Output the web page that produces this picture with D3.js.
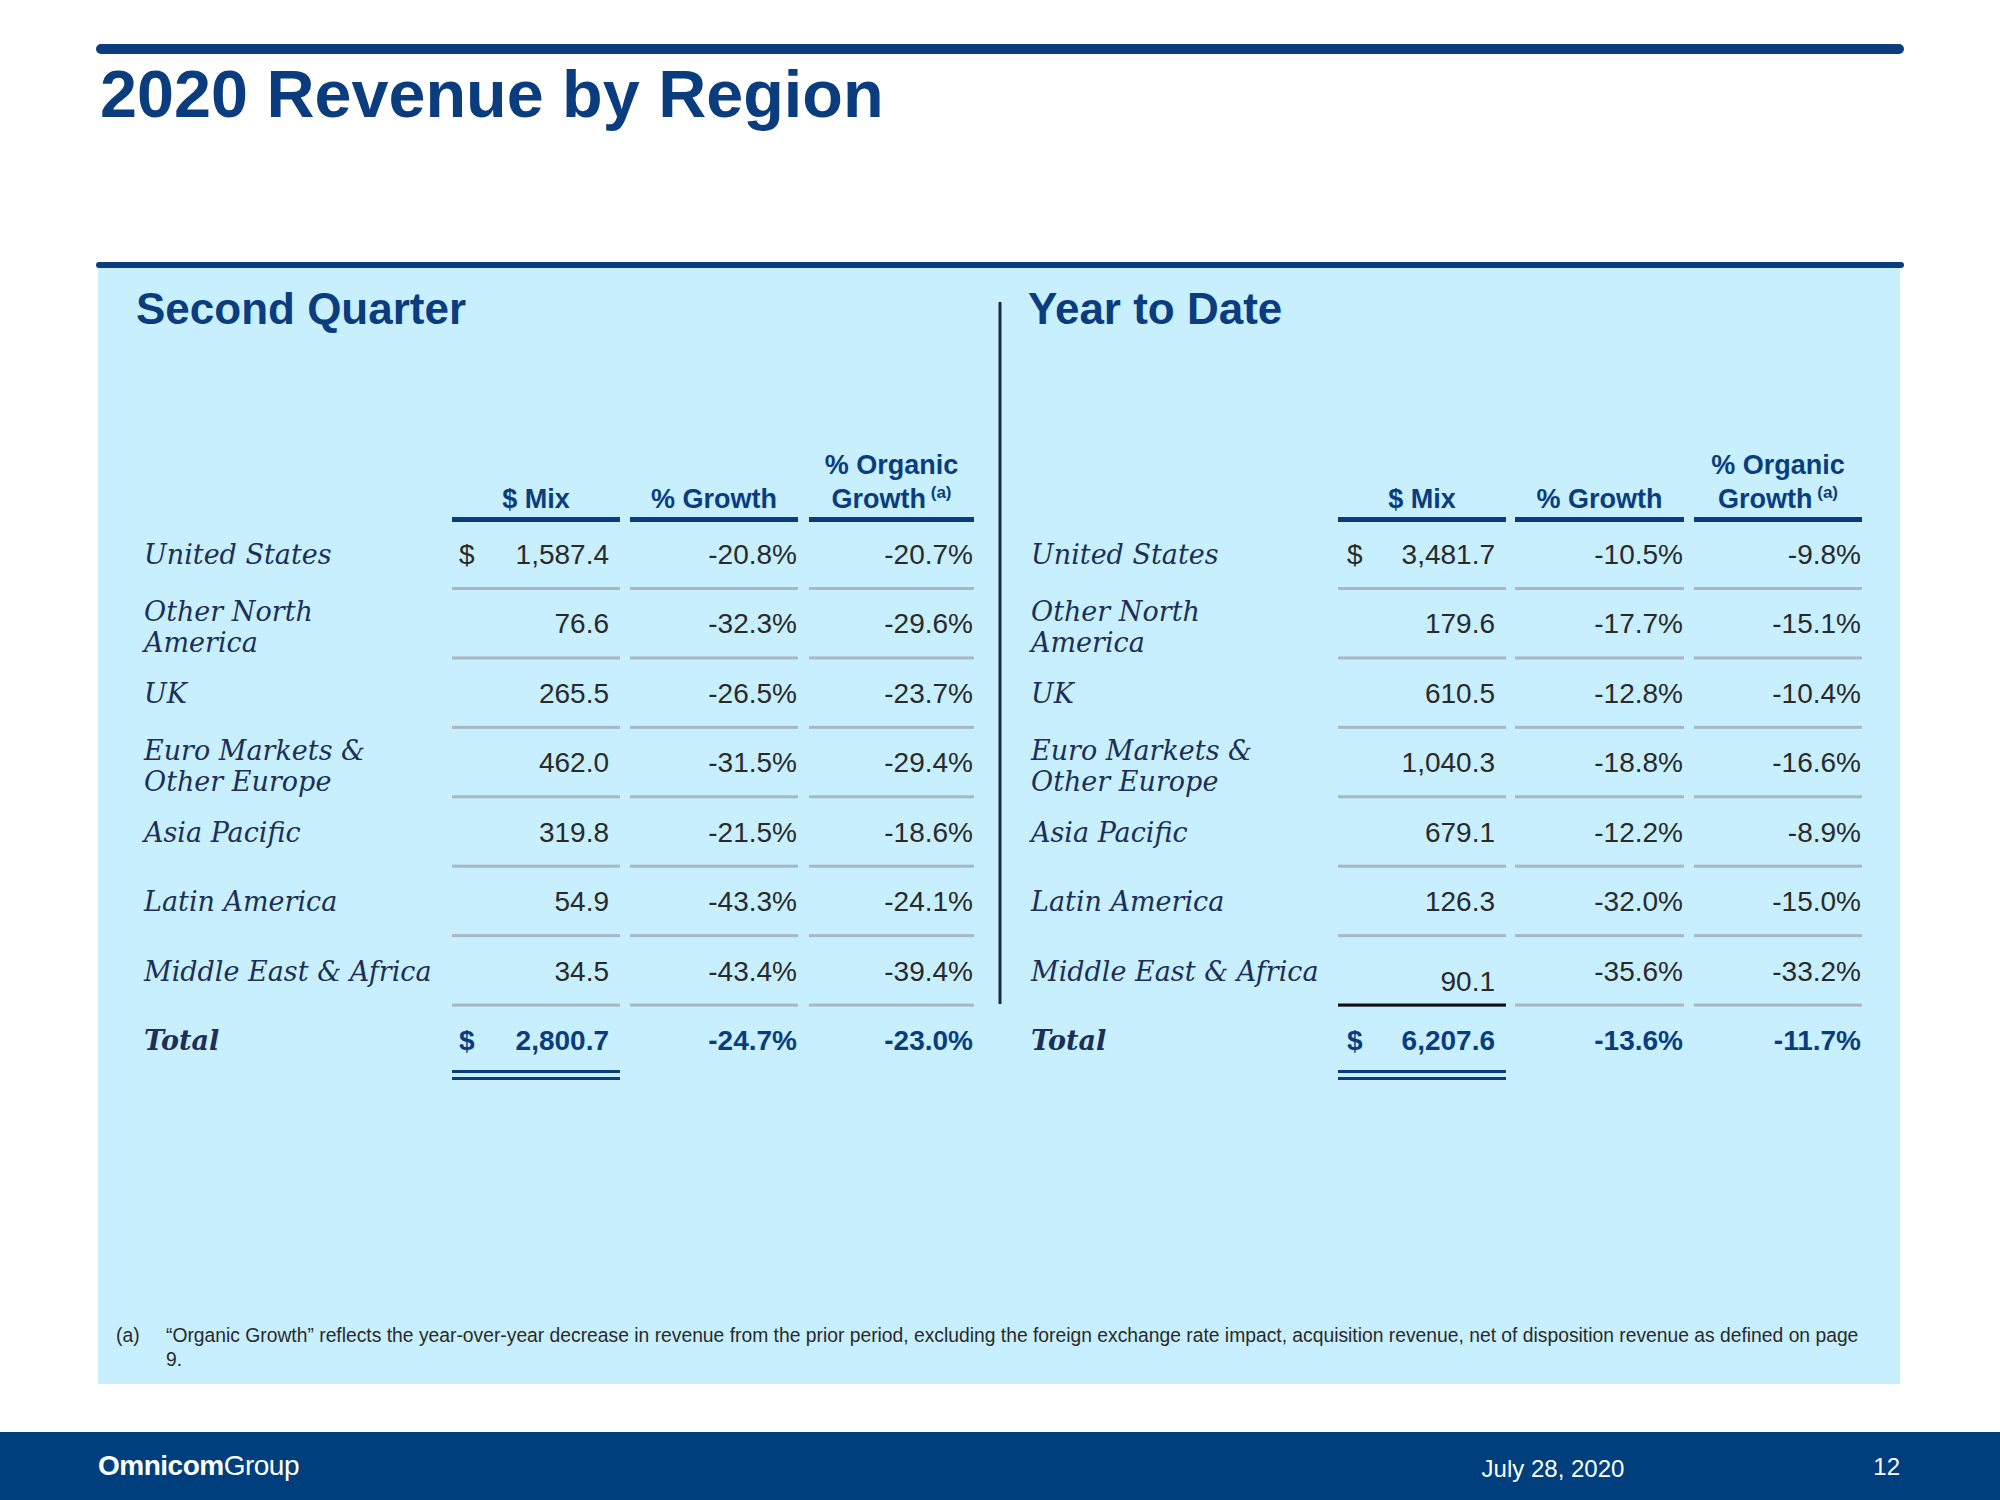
<!DOCTYPE html>
<html><head><meta charset="utf-8">
<script src="https://cdn.jsdelivr.net/npm/d3@7/dist/d3.min.js"></script>
<style>body{margin:0;background:#fff}svg{display:block}</style></head>
<body><svg id="c" width="2000" height="1500"></svg>
<script>
const regions = ["United States","Other North|America","UK","Euro Markets &|Other Europe","Asia Pacific","Latin America","Middle East & Africa"];
const qMix = ["1,587.4","76.6","265.5","462.0","319.8","54.9","34.5"];
const qGrowth = ["-20.8%","-32.3%","-26.5%","-31.5%","-21.5%","-43.3%","-43.4%"];
const qOrganic = ["-20.7%","-29.6%","-23.7%","-29.4%","-18.6%","-24.1%","-39.4%"];
const qTotal = ["2,800.7","-24.7%","-23.0%"];
const yMix = ["3,481.7","179.6","610.5","1,040.3","679.1","126.3","90.1"];
const yGrowth = ["-10.5%","-17.7%","-12.8%","-18.8%","-12.2%","-32.0%","-35.6%"];
const yOrganic = ["-9.8%","-15.1%","-10.4%","-16.6%","-8.9%","-15.0%","-33.2%"];
const yTotal = ["6,207.6","-13.6%","-11.7%"];

const svg = d3.select("#c");
const blue = "#0b3d7e", txt = "#2a2a2a";
const sans = "Liberation Sans, Arial, sans-serif", serif = "DejaVu Serif, Georgia, serif";

svg.append("rect").attr("x",96).attr("y",44).attr("width",1808).attr("height",10).attr("rx",5).attr("fill",blue);
svg.append("text").attr("x",100).attr("y",117).attr("font-family",sans).attr("font-weight","bold").attr("font-size",66.5).attr("fill",blue).text("2020 Revenue by Region");

svg.append("rect").attr("x",98).attr("y",264).attr("width",1802).attr("height",1120).attr("fill","#c7effd");
svg.append("rect").attr("x",96).attr("y",262).attr("width",1808).attr("height",6).attr("rx",3).attr("fill",blue);
svg.append("line").attr("x1",1000).attr("x2",1000).attr("y1",302).attr("y2",1004).attr("stroke","#1a2a40").attr("stroke-width",3);

const rowY = d3.scaleLinear().domain([0,7]).range([564,1050]);

function panel(x0, title, labelX, cols, mix, growth, organic, total, dollarX, ytd){
  svg.append("text").attr("x",x0).attr("y",324).attr("font-family",sans).attr("font-weight","bold").attr("font-size",44).attr("fill",blue).text(title);
  const heads = [["$ Mix"],["% Growth"],["% Organic","Growth"]];
  cols.forEach((c,i)=>{
    const cx=(c[0]+c[1])/2;
    const h=heads[i];
    h.forEach((t,j)=>{
      const tt=svg.append("text").attr("x",cx).attr("y",508-(h.length-1-j)*34).attr("text-anchor","middle").attr("font-family",sans).attr("font-weight","bold").attr("font-size",27).attr("fill",blue).text(t);
      if(t==="Growth") tt.append("tspan").attr("dy",-10).attr("font-size",17).text(" (a)");
    });
    svg.append("rect").attr("x",c[0]).attr("y",517).attr("width",c[1]-c[0]).attr("height",5).attr("fill",blue);
    for(let r=0;r<7;r++){
      svg.append("rect").attr("x",c[0]).attr("y",rowY(r)+23).attr("width",c[1]-c[0]).attr("height",3).attr("fill","#a9b7c2");
    }
  });
  const pad=[11,1,1];
  regions.forEach((reg,r)=>{
    const parts=reg.split("|");
    const y=rowY(r) + (parts.length>1?-12:0);
    parts.forEach((p,j)=>svg.append("text").attr("x",labelX).attr("y",y+j*31).attr("font-family",serif).attr("font-style","italic").attr("font-size",27).attr("fill","#1e2f55").text(p));
    [mix,growth,organic].forEach((arr,i)=>{
      const off = (ytd && i===0 && r===6) ? 10 : 0;
      svg.append("text").attr("x",cols[i][1]-pad[i]).attr("y",rowY(r)+off).attr("text-anchor","end").attr("font-family",sans).attr("font-size",28).attr("fill",txt).text(arr[r]);
    });
  });
  if(ytd) svg.append("rect").attr("x",cols[0][0]).attr("y",rowY(6)+23).attr("width",cols[0][1]-cols[0][0]).attr("height",3).attr("fill","#111");
  svg.append("text").attr("x",dollarX).attr("y",rowY(0)).attr("font-family",sans).attr("font-size",28).attr("fill",txt).text("$");
  const ty=rowY(7);
  svg.append("text").attr("x",labelX).attr("y",ty).attr("font-family",serif).attr("font-style","italic").attr("font-weight","bold").attr("font-size",27).attr("fill","#1e2f55").text("Total");
  svg.append("text").attr("x",dollarX).attr("y",ty).attr("font-family",sans).attr("font-weight","bold").attr("font-size",28).attr("fill",blue).text("$");
  total.forEach((v,i)=>svg.append("text").attr("x",cols[i][1]-pad[i]).attr("y",ty).attr("text-anchor","end").attr("font-family",sans).attr("font-weight","bold").attr("font-size",28).attr("fill",blue).text(v));
  svg.append("rect").attr("x",cols[0][0]).attr("y",1070).attr("width",cols[0][1]-cols[0][0]).attr("height",3).attr("fill",blue);
  svg.append("rect").attr("x",cols[0][0]).attr("y",1077).attr("width",cols[0][1]-cols[0][0]).attr("height",3).attr("fill",blue);
}
panel(136,"Second Quarter",144,[[452,620],[630,798],[809,974]],qMix,qGrowth,qOrganic,qTotal,459,false);
panel(1028,"Year to Date",1031,[[1338,1506],[1515,1684],[1694,1862]],yMix,yGrowth,yOrganic,yTotal,1347,true);

svg.append("text").attr("x",116).attr("y",1342).attr("font-family",sans).attr("font-size",19.3).attr("fill",txt).text("(a)");
svg.append("text").attr("x",166).attr("y",1342).attr("font-family",sans).attr("font-size",19.3).attr("fill",txt).text("“Organic Growth” reflects the year-over-year decrease in revenue from the prior period, excluding the foreign exchange rate impact, acquisition revenue, net of disposition revenue as defined on page");
svg.append("text").attr("x",166).attr("y",1366).attr("font-family",sans).attr("font-size",19.3).attr("fill",txt).text("9.");

svg.append("rect").attr("x",0).attr("y",1432).attr("width",2000).attr("height",68).attr("fill","#003f7d");
const og=svg.append("text").attr("x",98).attr("y",1475).attr("font-family",sans).attr("font-size",28).attr("fill","#fff").attr("letter-spacing",-0.5);
og.append("tspan").attr("font-weight","bold").text("Omnicom");
og.append("tspan").text("Group");
svg.append("text").attr("x",1553).attr("y",1477).attr("text-anchor","middle").attr("font-family",sans).attr("font-size",24).attr("fill","#fff").text("July 28, 2020");
svg.append("text").attr("x",1900).attr("y",1475).attr("text-anchor","end").attr("font-family",sans).attr("font-size",24).attr("fill","#fff").text("12");
</script></body></html>
